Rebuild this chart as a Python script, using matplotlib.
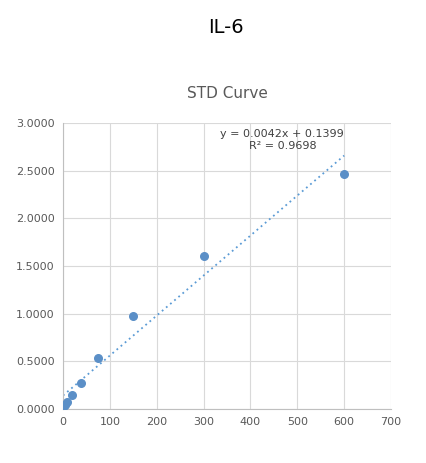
import numpy as np
from matplotlib import pyplot as plt

conc = [0, 4.7, 9.4, 18.75, 37.5, 75, 150, 300, 600]
od = [0.02, 0.04, 0.07, 0.14, 0.27, 0.53, 0.98, 1.61, 2.47]
slope = 0.0042
intercept = 0.1399
r2 = 0.9698

fig = plt.figure(figsize=(4.26, 4.63), dpi=100)
ax = fig.add_axes([0.148, 0.117, 0.77, 0.617])

xs = np.array([0, 600])
ax.plot(xs, slope * xs + intercept, linestyle=(0, (1, 2)), color='#5b9bd5', linewidth=1.3)
ax.scatter(conc, od, s=30, color='#5b8fc7', zorder=3)

ax.set_xlim(0, 700)
ax.set_ylim(0, 3)
ax.set_xticks(range(0, 701, 100))
ax.set_yticks(np.arange(0, 3.01, 0.5))
ax.set_yticklabels([f'{v:.4f}' for v in np.arange(0, 3.01, 0.5)])
ax.grid(color='#d9d9d9', linewidth=0.8)
ax.set_axisbelow(True)
for s in ['top', 'right']:
    ax.spines[s].set_visible(False)
for s in ['left', 'bottom']:
    ax.spines[s].set_color('#bfbfbf')
ax.tick_params(length=0, labelsize=8, colors='#595959', pad=6)

ax.text(600, 2.82, f'y = {slope}x + {intercept}\nR² = {r2}', ha='right', va='center',
        fontsize=8, color='#404040', linespacing=1.2, multialignment='center')
ax.set_title('STD Curve', fontsize=11, color='#595959', pad=18)
fig.text(0.53, 0.94, 'IL-6', ha='center', va='center', fontsize=14)

fig.savefig('out.png', dpi=100, facecolor='white')
